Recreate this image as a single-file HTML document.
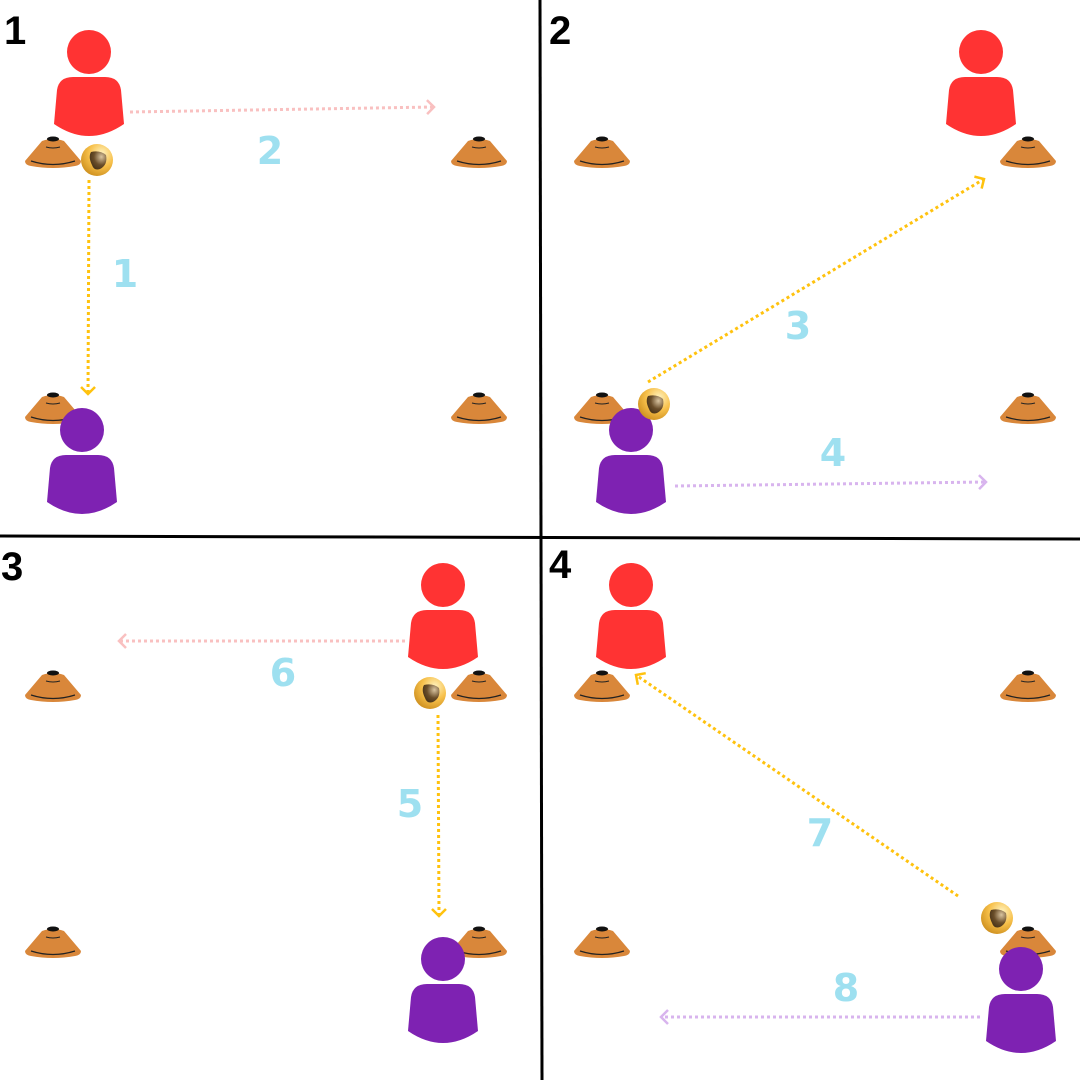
<!DOCTYPE html>
<html><head><style>html,body{margin:0;padding:0;background:#fff}svg{display:block}</style></head>
<body>
<svg width="1080" height="1080" viewBox="0 0 1080 1080" xmlns="http://www.w3.org/2000/svg">
<defs>
<radialGradient id="bg" cx="0.65" cy="0.3" r="0.8"><stop offset="0" stop-color="#fff3c0"/><stop offset="0.5" stop-color="#f7c04a"/><stop offset="1" stop-color="#c98a1a"/></radialGradient>
<radialGradient id="bh" cx="0.7" cy="0.3" r="0.9"><stop offset="0" stop-color="#d9c4a0"/><stop offset="0.5" stop-color="#6a4e2a"/><stop offset="1" stop-color="#3a2810"/></radialGradient>
<g id="cone">
<path d="M-28,9 L-11,-11 Q0,-15 11,-11 L28,9 Q28,13 22,14 Q0,18 -22,14 Q-28,13 -28,9 Z" fill="#d9873a"/>
<ellipse cx="0" cy="-13" rx="6" ry="2.5" fill="#111"/>
<path d="M-7,-5 Q0,-3 7,-5" stroke="#222" stroke-width="1" fill="none"/>
<path d="M-22,9 Q0,16 22,9" stroke="#222" stroke-width="1.2" fill="none"/>
</g>
<g id="ball">
<circle r="16" fill="url(#bg)"/>
<path d="M-6,-8 Q3,-10 9,-5 Q11,5 3,9 Q-3,11 -5,5 Q-9,-3 -6,-8Z" fill="url(#bh)"/>
</g>
<g id="body">
<circle cx="0" cy="0" r="22"/>
<path d="M-35,72 L-32,38 Q-30,25 -16,25 L16,25 Q30,25 32,38 L35,72 Q0,96 -35,72 Z"/>
</g>
<marker id="ay" viewBox="0 0 10 10" refX="6" refY="5" markerWidth="10" markerHeight="10" orient="auto" markerUnits="userSpaceOnUse" style="overflow:visible"><path d="M-1,-2 L6,5 L-1,12" fill="none" stroke="#ffc20e" stroke-width="2.5"/></marker>
<marker id="ap" viewBox="0 0 10 10" refX="6" refY="5" markerWidth="10" markerHeight="10" orient="auto" markerUnits="userSpaceOnUse" style="overflow:visible"><path d="M-1,-2 L6,5 L-1,12" fill="none" stroke="#f9c0c0" stroke-width="2.5"/></marker>
<marker id="av" viewBox="0 0 10 10" refX="6" refY="5" markerWidth="10" markerHeight="10" orient="auto" markerUnits="userSpaceOnUse" style="overflow:visible"><path d="M-1,-2 L6,5 L-1,12" fill="none" stroke="#d8b4ee" stroke-width="2.5"/></marker>
</defs>

<line x1="540" y1="0" x2="542" y2="1080" stroke="#000" stroke-width="3"/>
<line x1="0" y1="536" x2="1080" y2="539" stroke="#000" stroke-width="3"/>

<g font-family="Liberation Sans, sans-serif" font-weight="bold" font-size="40" fill="#000">
<text x="4" y="44">1</text><text x="549" y="44">2</text><text x="1" y="580">3</text><text x="549" y="578">4</text>
</g>

<use href="#cone" x="53" y="152"/><use href="#cone" x="479" y="152"/><use href="#cone" x="53" y="408"/><use href="#cone" x="479" y="408"/>
<use href="#cone" x="602" y="152"/><use href="#cone" x="1028" y="152"/><use href="#cone" x="602" y="408"/><use href="#cone" x="1028" y="408"/>
<use href="#cone" x="53" y="686"/><use href="#cone" x="479" y="686"/><use href="#cone" x="53" y="942"/><use href="#cone" x="479" y="942"/>
<use href="#cone" x="602" y="686"/><use href="#cone" x="1028" y="686"/><use href="#cone" x="602" y="942"/><use href="#cone" x="1028" y="942"/>

<g stroke-width="3" stroke-dasharray="3 3" fill="none">
<line x1="89" y1="180" x2="88" y2="394" stroke="#ffc20e" marker-end="url(#ay)"/>
<line x1="130" y1="112" x2="434" y2="107" stroke="#f9c0c0" marker-end="url(#ap)"/>
<line x1="648" y1="382" x2="984" y2="179" stroke="#ffc20e" marker-end="url(#ay)"/>
<line x1="675" y1="486" x2="986" y2="482" stroke="#d8b4ee" marker-end="url(#av)"/>
<line x1="405" y1="641" x2="119" y2="641" stroke="#f9c0c0" marker-end="url(#ap)"/>
<line x1="438" y1="715" x2="439" y2="916" stroke="#ffc20e" marker-end="url(#ay)"/>
<line x1="958" y1="896" x2="636" y2="675" stroke="#ffc20e" marker-end="url(#ay)"/>
<line x1="980" y1="1017" x2="661" y2="1017" stroke="#d8b4ee" marker-end="url(#av)"/>
</g>

<use href="#body" x="89" y="52" fill="#ff3333"/>
<use href="#body" x="82" y="430" fill="#7e22b2"/>
<use href="#body" x="981" y="52" fill="#ff3333"/>
<use href="#body" x="631" y="430" fill="#7e22b2"/>
<use href="#body" x="443" y="585" fill="#ff3333"/>
<use href="#body" x="443" y="959" fill="#7e22b2"/>
<use href="#body" x="631" y="585" fill="#ff3333"/>
<use href="#body" x="1021" y="969" fill="#7e22b2"/>

<use href="#ball" x="97" y="160"/><use href="#ball" x="654" y="404"/><use href="#ball" x="430" y="693"/><use href="#ball" x="997" y="918"/>

<g font-family="DejaVu Sans, Liberation Sans, sans-serif" font-weight="bold" font-size="38" fill="#9ee0f0" text-anchor="middle">
<text x="270" y="164">2</text><text x="125" y="287">1</text><text x="798" y="339">3</text><text x="833" y="466">4</text>
<text x="283" y="686">6</text><text x="410" y="817">5</text><text x="820" y="846">7</text><text x="846" y="1001">8</text>
</g>
</svg>
</body></html>
